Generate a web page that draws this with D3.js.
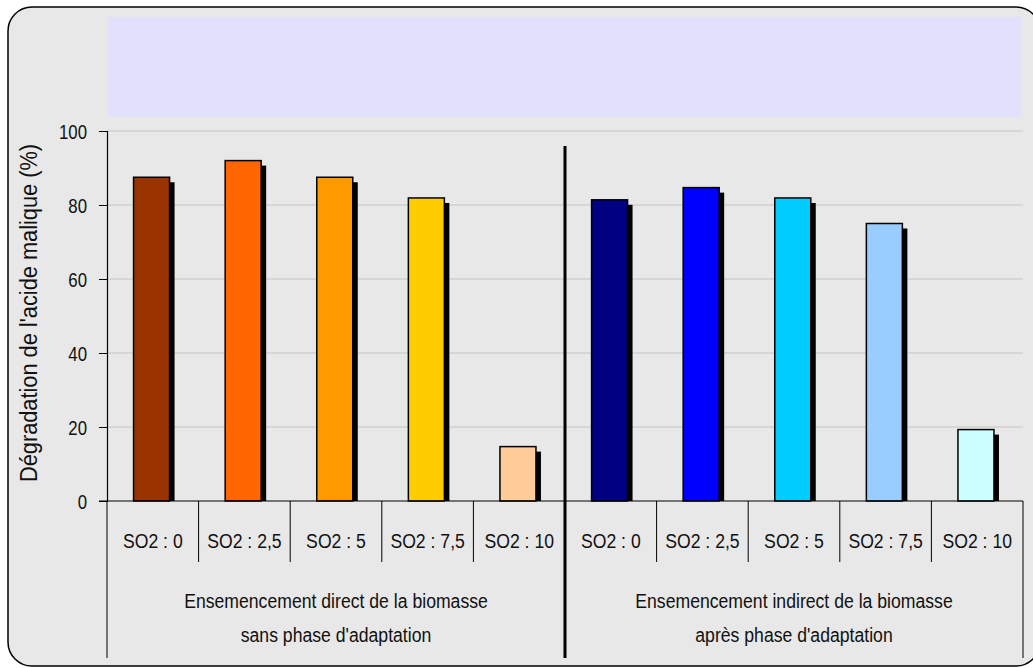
<!DOCTYPE html>
<html><head><meta charset="utf-8">
<script src="https://cdn.jsdelivr.net/npm/d3@7"></script>
<style>
html,body{margin:0;padding:0;background:#fff;}
svg{display:block;}
text{font-family:"Liberation Sans",Arial,sans-serif;fill:#111;}
</style></head>
<body>
<svg id="chart" width="1033" height="668"></svg>
<script>
const categories = ["SO2 : 0","SO2 : 2,5","SO2 : 5","SO2 : 7,5","SO2 : 10"];
const groups = [
  ["Ensemencement direct de la biomasse","sans phase d'adaptation"],
  ["Ensemencement indirect de la biomasse","après phase d'adaptation"]
];
const valuesDirect = [87.5, 92.0, 87.5, 81.9, 14.7];
const valuesIndirect = [81.4, 84.7, 81.9, 75.0, 19.3];
const colorsDirect = ["#993300","#FF6600","#FF9900","#FFCC00","#FFCC99"];
const colorsIndirect = ["#000080","#0000FF","#00CCFF","#99CCFF","#CCFFFF"];
const yTicks = [0,20,40,60,80,100];
const yTitle = "Dégradation de l'acide malique (%)";

(function(){
const SX = 0.84; // narrow font emulation
const svg = d3.select("#chart");
// frame
svg.append("rect").attr("x",8).attr("y",7).attr("width",1032).attr("height",659)
  .attr("rx",24).attr("ry",24).attr("fill","#E8E8E8").attr("stroke","#000").attr("stroke-width",1.5);
// title box
svg.append("rect").attr("x",108).attr("y",17).attr("width",913).attr("height",100).attr("fill","#E1E1FC");

const pL = 107, pR = 1023, pT = 131, pB = 501;
const data = [];
groups.forEach((g,gi)=>{
  const vals = gi===0?valuesDirect:valuesIndirect;
  const cols = gi===0?colorsDirect:colorsIndirect;
  categories.forEach((c,ci)=>data.push({key:gi+"-"+ci, cat:c, group:gi, value:vals[ci], color:cols[ci]}));
});
const x = d3.scaleBand().domain(data.map(d=>d.key)).range([pL,pR]).paddingInner(0).paddingOuter(0);
const y = d3.scaleLinear().domain([0,100]).range([pB,pT]);

// gridlines
svg.append("g").selectAll("line").data(yTicks.filter(t=>t>0)).join("line")
  .attr("x1",pL).attr("x2",pR).attr("y1",d=>y(d)).attr("y2",d=>y(d))
  .attr("stroke","#C4C4C4").attr("stroke-width",1.2);

// y axis
const yAxis = svg.append("g").attr("transform",`translate(${pL},0)`)
  .call(d3.axisLeft(y).tickValues(yTicks).tickSize(8).tickPadding(10));
yAxis.select(".domain").attr("stroke","#000").attr("stroke-width",1.2);
yAxis.selectAll(".tick line").attr("stroke","#000");
yAxis.selectAll(".tick text")
  .attr("x",0).attr("dy","0.35em")
  .attr("transform",`translate(-20,0) scale(0.8,1)`)
  .attr("font-size",21).style("font-family",'"Liberation Sans",Arial,sans-serif').attr("fill","#111");

svg.append("text").attr("transform",`translate(37,313) rotate(-90)`)
  .attr("text-anchor","middle").attr("font-size",23)
  .attr("textLength",338).attr("lengthAdjust","spacingAndGlyphs").text(yTitle);

// bars
const bw = x.bandwidth();
const barW = bw*0.393, barOff = bw*0.29, sh = 5;
const bars = svg.append("g");
bars.selectAll("rect.shadow").data(data).join("rect").attr("class","shadow")
  .attr("x",d=>x(d.key)+barOff+sh).attr("y",d=>y(d.value)+sh)
  .attr("width",barW).attr("height",d=>pB-y(d.value)-sh).attr("fill","#000");
bars.selectAll("rect.bar").data(data).join("rect").attr("class","bar")
  .attr("x",d=>x(d.key)+barOff).attr("y",d=>y(d.value))
  .attr("width",barW).attr("height",d=>pB-y(d.value)).attr("fill",d=>d.color)
  .attr("stroke","#000").attr("stroke-width",1.5);

// x axis baseline
svg.append("line").attr("x1",pL-8).attr("x2",pR).attr("y1",pB).attr("y2",pB)
  .attr("stroke","#000").attr("stroke-width",1.2);

// category separators
const catSeps = data.map(d=>x(d.key)).filter((v,i)=>i%5!==0);
svg.append("g").selectAll("line").data(catSeps).join("line")
  .attr("x1",d=>d).attr("x2",d=>d).attr("y1",pB).attr("y2",562)
  .attr("stroke","#000").attr("stroke-width",1);
// outer group edges
svg.append("g").selectAll("line").data([pL,pR]).join("line")
  .attr("x1",d=>d).attr("x2",d=>d).attr("y1",pB).attr("y2",658)
  .attr("stroke","#000").attr("stroke-width",1);
// category labels
svg.append("g").selectAll("text").data(data).join("text")
  .attr("transform",d=>`translate(${x(d.key)+bw/2},548) scale(${SX},1)`)
  .attr("text-anchor","middle").attr("font-size",21).text(d=>d.cat);
// group labels
const gx = gi => (x(gi+"-0") + x(gi+"-4") + bw)/2;
groups.forEach((g,gi)=>{
  g.forEach((line,li)=>{
    svg.append("text").attr("transform",`translate(${gx(gi)},${608+li*34}) scale(${SX},1)`)
      .attr("text-anchor","middle").attr("font-size",21).text(line);
  });
});
// thick divider
const divX = x("1-0");
svg.append("line").attr("x1",divX).attr("x2",divX).attr("y1",146).attr("y2",658)
  .attr("stroke","#000").attr("stroke-width",3);
})();
</script>
</body></html>
